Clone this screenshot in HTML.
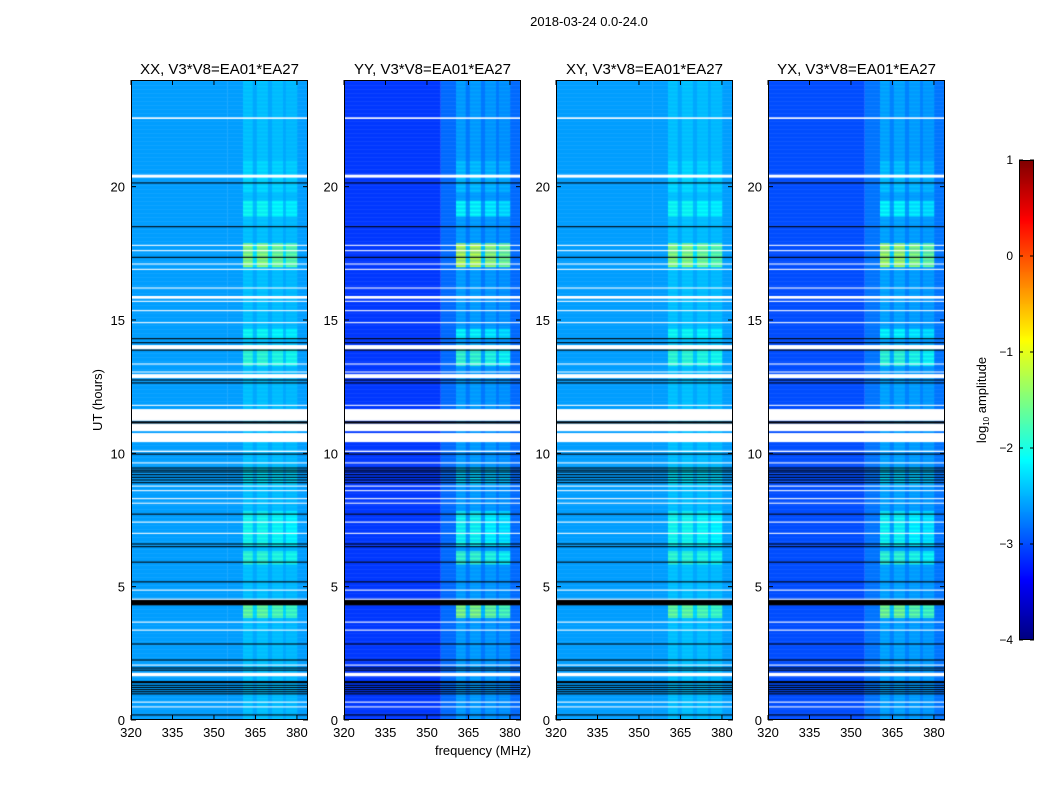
<!DOCTYPE html>
<html><head><meta charset="utf-8">
<style>
body{margin:0;background:#fff;width:1050px;height:800px;overflow:hidden;font-family:"Liberation Sans",sans-serif;}
#root{position:relative;width:1050px;height:800px;}
canvas{position:absolute;}
svg{position:absolute;left:0;top:0;}
</style></head>
<body>
<div id="root">
<canvas id="c0" width="177" height="640" style="left:131px;top:80px"></canvas>
<canvas id="c1" width="177" height="640" style="left:344px;top:80px"></canvas>
<canvas id="c2" width="177" height="640" style="left:556px;top:80px"></canvas>
<canvas id="c3" width="177" height="640" style="left:768px;top:80px"></canvas>
<canvas id="cb" width="15" height="480" style="left:1019px;top:160px"></canvas>
<svg id="ax" width="1050" height="800"></svg>
</div>
<script>
// ---- data ----
const panelTitles = ["XX, V3*V8=EA01*EA27","YY, V3*V8=EA01*EA27","XY, V3*V8=EA01*EA27","YX, V3*V8=EA01*EA27"];
const panelBase = [-2.6, -2.85, -2.6, -2.8];
const lowFreqOffset = [0, -0.25, 0, -0.2];   // applied below 355 MHz
const rfiScale = [0.9, 1.25, 0.9, 1.15];
const xTicks = [320,335,350,365,380];
const yTicks = [0,5,10,15,20];
const cbTicks = [1,0,-1,-2,-3,-4];
// RFI frequency bands [start MHz, end MHz, weight]
const freqBands = [[360.5,364,1],[364,365.5,0.3],[365.5,369.5,1],[369.5,371,0.3],[371,375,0.9],[375,376,0.3],[376,380,0.8]];
// RFI time bands [start,end,strength]
const rfiBands = [[17.0,17.9,1.3],[13.3,14.1,0.8],[3.8,4.3,1.1],[5.8,6.3,0.8],[6.5,7.8,0.65],[8.8,9.5,0.45],[18.9,19.5,0.6],[14.3,14.7,0.6],[19.8,21.0,0.35],[0,24,0.22]];
// flagged white gaps [start,end] in hours
const whiteGaps = [[22.54,22.6],[20.34,20.45],[17.78,17.82],[17.58,17.62],[17.08,17.12],[16.88,16.92],[16.18,16.22],[15.8,15.9],[15.68,15.72],[15.33,15.37],[14.88,14.92],[13.9,14.06],[13.33,13.37],[13.03,13.07],[12.82,12.97],[11.78,11.82],[11.22,11.66],[10.83,11.12],[10.42,10.76],[10.05,10.1],[9.62,9.66],[8.75,8.79],[8.58,8.62],[8.28,8.32],[8.11,8.15],[7.4,7.44],[6.98,7.02],[4.85,4.89],[4.51,4.55],[3.65,3.69],[3.35,3.39],[2.04,2.08],[1.64,1.77],[0.65,0.69],[0.47,0.51]];
// black lines [time, thickness hours]
const blackLines = [[20.14,0.04],[18.5,0.04],[17.35,0.04],[14.3,0.04],[14.15,0.04],[13.87,0.04],[12.75,0.04],[12.64,0.04],[11.16,0.08],[9.97,0.04],[9.45,0.04],[9.37,0.04],[9.3,0.04],[9.2,0.04],[9.1,0.04],[9.0,0.04],[8.9,0.04],[7.72,0.04],[6.6,0.04],[6.5,0.04],[5.92,0.04],[5.18,0.04],[4.4,0.2],[2.85,0.04],[2.25,0.04],[1.95,0.04],[1.87,0.04],[1.42,0.08],[1.3,0.04],[1.22,0.04],[1.14,0.04],[1.06,0.04],[0.98,0.04],[0.19,0.04]];

// ---- scales ----
const PW=177, PH=640, F0=320, F1=384, T0=0, T1=24, VMIN=-4, VMAX=1;
const panelLeft=[131,344,556,768], TOP=80;
const xs = f => (f-F0)/(F1-F0)*PW;
const ys = t => PH - (t-T0)/(T1-T0)*PH;
function jet(v){
  const t=Math.max(0,Math.min(1,(v-VMIN)/(VMAX-VMIN)));
  const c=x=>Math.round(255*Math.max(0,Math.min(1,x)));
  return `rgb(${c(1.5-Math.abs(4*t-3))},${c(1.5-Math.abs(4*t-2))},${c(1.5-Math.abs(4*t-1))})`;
}
// ---- heatmaps ----
const dt=0.05;
for(let p=0;p<4;p++){
  const ctx=document.getElementById('c'+p).getContext('2d');
  for(let t=0;t<24;t+=dt){
    let rfi=0;
    rfiBands.forEach(b=>{ if(t>=b[0]&&t<b[1]) rfi=Math.max(rfi,b[2]); });
    const y0=ys(t+dt), y1=ys(t);
    ctx.fillStyle=jet(panelBase[p]+lowFreqOffset[p]);
    ctx.fillRect(0,y0,xs(355),y1-y0+0.5);
    ctx.fillStyle=jet(panelBase[p]);
    ctx.fillRect(xs(355),y0,PW-xs(355),y1-y0+0.5);
    freqBands.forEach(fb=>{
      ctx.fillStyle=jet(panelBase[p]+rfi*fb[2]*rfiScale[p]);
      ctx.fillRect(xs(fb[0]),y0,xs(fb[1])-xs(fb[0])+0.3,y1-y0+0.5);
    });
  }
  ctx.fillStyle='#fff';
  whiteGaps.forEach(g=>{ ctx.fillRect(0,ys(g[1]),PW,Math.max(1,ys(g[0])-ys(g[1]))); });
  ctx.fillStyle='#000';
  blackLines.forEach(b=>{ ctx.fillRect(0,ys(b[0]+b[1]/2),PW,Math.max(1,b[1]/24*PH)); });
}
// colorbar
(function(){
  const ctx=document.getElementById('cb').getContext('2d');
  for(let y=0;y<480;y++){ ctx.fillStyle=jet(VMAX-(y+0.5)/480*(VMAX-VMIN)); ctx.fillRect(0,y,15,1); }
})();
// ---- axes svg ----
const svg=document.getElementById('ax');
const NS='http://www.w3.org/2000/svg';
function el(tag,attrs,txt){const e=document.createElementNS(NS,tag);for(const k in attrs)e.setAttribute(k,attrs[k]);if(txt!==undefined)e.textContent=txt;svg.appendChild(e);return e;}
let e=el('text',{x:589,y:26,'font-size':13,'text-anchor':'middle','font-family':'Liberation Sans'},'2018-03-24 0.0-24.0');


for(let p=0;p<4;p++){
  const L=panelLeft[p];
  e=el('rect',{x:L+0.5,y:TOP+0.5,width:PW-1,height:PH-1,fill:'none',stroke:'#000','stroke-width':1});
  
  
  e=el('text',{x:L+PW/2,y:74,'font-size':15,'text-anchor':'middle','font-family':'Liberation Sans'},panelTitles[p]);
  
  
  xTicks.forEach(f=>{
    const x=L+xs(f);
    el('line',{x1:x,x2:x,y1:TOP+PH,y2:TOP+PH-5,stroke:'#000'});
    el('line',{x1:x,x2:x,y1:TOP,y2:TOP+5,stroke:'#000'});
    e=el('text',{x:x,y:TOP+PH+17,'font-size':13,'text-anchor':'middle','font-family':'Liberation Sans'},String(f));
    
    
  });
  yTicks.forEach(t=>{
    const y=TOP+ys(t);
    el('line',{x1:L,x2:L+5,y1:y,y2:y,stroke:'#000'});
    el('line',{x1:L+PW,x2:L+PW-5,y1:y,y2:y,stroke:'#000'});
    e=el('text',{x:L-6,y:y+5,'font-size':13,'text-anchor':'end','font-family':'Liberation Sans'},String(t));
    
    
  });
}
e=el('text',{x:0,y:0,'font-size':13,'text-anchor':'middle','font-family':'Liberation Sans',transform:'translate(102,400) rotate(-90)'},'UT (hours)');


e=el('text',{x:483,y:755,'font-size':13,'text-anchor':'middle','font-family':'Liberation Sans'},'frequency (MHz)');


// colorbar frame, ticks, labels
e=el('rect',{x:1019.5,y:160.5,width:14,height:479,fill:'none',stroke:'#000'});


cbTicks.forEach(v=>{
  const y=160+(VMAX-v)/(VMAX-VMIN)*480;
  el('line',{x1:1019,x2:1023,y1:y,y2:y,stroke:'#000'});
  el('line',{x1:1034,x2:1030,y1:y,y2:y,stroke:'#000'});
  e=el('text',{x:1013,y:y+4,'font-size':12,'text-anchor':'end','font-family':'Liberation Sans'},v<0?'\u2212'+(-v):String(v));
  
  
});
e=el('text',{x:0,y:0,'font-size':13,'text-anchor':'middle','font-family':'Liberation Sans',transform:'translate(986,400) rotate(-90)'});


e.innerHTML='log<tspan font-size="8" dy="3">10</tspan><tspan dy="-3"> amplitude</tspan>';
</script>
</body></html>
